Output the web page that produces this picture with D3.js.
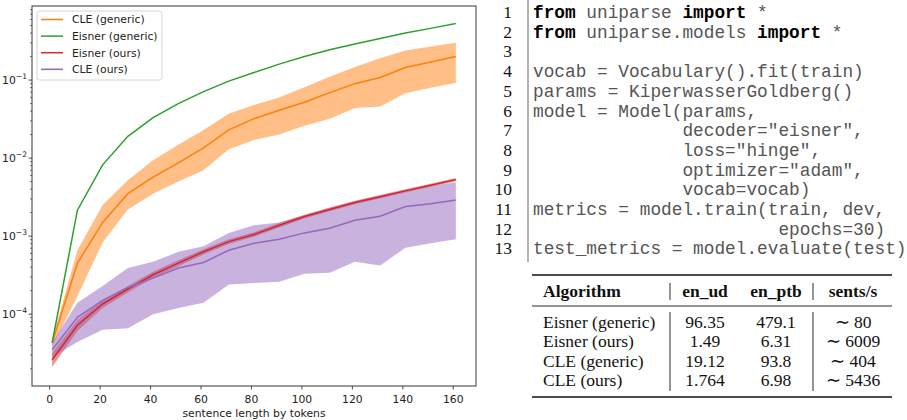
<!DOCTYPE html>
<html>
<head>
<meta charset="utf-8">
<script src="https://cdn.jsdelivr.net/npm/d3@7.9.0/dist/d3.min.js"></script>
<style>
  body { margin: 0; background: #fff; }
  svg { display: block; }
  .code text { white-space: pre; }
</style>
</head>
<body>
<svg id="fig" width="907" height="420"></svg>
<script>
// sentence length (tokens)
const lengths = [1, 11, 21, 31, 41, 51, 61, 71, 81, 91, 101, 111, 121, 131, 141, 151, 161];

const eisnerGeneric = [4.3e-5, 2.15e-3, 8.2e-3, 0.019, 0.033, 0.050, 0.071, 0.097, 0.125, 0.16, 0.20, 0.245, 0.29, 0.34, 0.40, 0.46, 0.53];

const cleGeneric   = [4.3e-5, 4.5e-4, 1.5e-3, 3.5e-3, 5.7e-3, 8.7e-3, 0.0135, 0.023, 0.032, 0.041, 0.052, 0.069, 0.09, 0.108, 0.145, 0.17, 0.2];
const cleGenericHi = [4.7e-5, 6.6e-4, 2.5e-3, 5.2e-3, 9.4e-3, 0.0148, 0.023, 0.037, 0.048, 0.06, 0.081, 0.11, 0.147, 0.19, 0.24, 0.27, 0.30];
const cleGenericLo = [3.8e-5, 1.7e-4, 8.3e-4, 2.2e-3, 3.5e-3, 5.0e-3, 7.0e-3, 0.013, 0.017, 0.02, 0.026, 0.032, 0.044, 0.046, 0.068, 0.08, 0.092];

const eisnerOurs   = [2.6e-5, 7.2e-5, 1.35e-4, 2.1e-4, 3.2e-4, 4.5e-4, 6.3e-4, 8.5e-4, 1.05e-3, 1.38e-3, 1.78e-3, 2.2e-3, 2.7e-3, 3.2e-3, 3.8e-3, 4.5e-3, 5.3e-3];
const eisnerOursHi = [3.2e-5, 8.4e-5, 1.5e-4, 2.3e-4, 3.5e-4, 4.9e-4, 6.8e-4, 9.1e-4, 1.12e-3, 1.47e-3, 1.88e-3, 2.32e-3, 2.84e-3, 3.36e-3, 3.98e-3, 4.7e-3, 5.55e-3];
const eisnerOursLo = [2.1e-5, 6.1e-5, 1.2e-4, 1.9e-4, 2.9e-4, 4.1e-4, 5.8e-4, 7.9e-4, 9.8e-4, 1.29e-3, 1.68e-3, 2.08e-3, 2.56e-3, 3.04e-3, 3.62e-3, 4.3e-3, 5.05e-3];

const cleOurs   = [3.5e-5, 9.1e-5, 1.5e-4, 2.2e-4, 2.9e-4, 3.9e-4, 4.6e-4, 6.6e-4, 8.1e-4, 9.1e-4, 1.1e-3, 1.26e-3, 1.6e-3, 1.8e-3, 2.4e-3, 2.6e-3, 2.9e-3];
const cleOursHi = [4.3e-5, 1.4e-4, 2.3e-4, 3.9e-4, 4.7e-4, 6.3e-4, 7.4e-4, 1.1e-3, 1.38e-3, 1.5e-3, 1.85e-3, 2.3e-3, 2.8e-3, 3.3e-3, 3.9e-3, 4.4e-3, 4.9e-3];
const cleOursLo = [2.8e-5, 4.4e-5, 6.3e-5, 6.6e-5, 1.0e-4, 1.2e-4, 1.4e-4, 2.4e-4, 2.5e-4, 2.6e-4, 3.3e-4, 3.4e-4, 4.7e-4, 4.2e-4, 7.1e-4, 8.1e-4, 9.1e-4];

const xTicks = [0, 20, 40, 60, 80, 100, 120, 140, 160];
const yTicks = [1e-4, 1e-3, 1e-2, 1e-1];
const yTickExp = ["\u22124", "\u22123", "\u22122", "\u22121"];

const codeLines = [
  [["from", true], [" uniparse ", false], ["import", true], [" *", false]],
  [["from", true], [" uniparse.models ", false], ["import", true], [" *", false]],
  [["", false]],
  [["vocab = Vocabulary().fit(train)", false]],
  [["params = KiperwasserGoldberg()", false]],
  [["model = Model(params,", false]],
  [["              decoder=\"eisner\",", false]],
  [["              loss=\"hinge\",", false]],
  [["              optimizer=\"adam\",", false]],
  [["              vocab=vocab)", false]],
  [["metrics = model.train(train, dev,", false]],
  [["                       epochs=30)", false]],
  [["test_metrics = model.evaluate(test)", false]]
];

const tableHeader = ["Algorithm", "en_ud", "en_ptb", "sents/s"];
const tableRows = [
  ["Eisner (generic)", "96.35", "479.1", "\u223c 80"],
  ["Eisner (ours)", "1.49", "6.31", "\u223c 6009"],
  ["CLE (generic)", "19.12", "93.8", "\u223c 404"],
  ["CLE (ours)", "1.764", "6.98", "\u223c 5436"]
];

const svg = d3.select("#fig");

// ---------- chart ----------
const L = 32, R = 476, T = 6, B = 386;
const x = d3.scaleLinear().domain([-7, 169]).range([L, R]);
const y = d3.scaleLog().domain([1.2e-5, 0.89]).range([B, T]);

const series = [
  { label: "CLE (generic)", color: "#ff7f0e", mean: cleGeneric, lo: cleGenericLo, hi: cleGenericHi },
  { label: "Eisner (generic)", color: "#2ca02c", mean: eisnerGeneric },
  { label: "Eisner (ours)", color: "#d62728", mean: eisnerOurs, lo: eisnerOursLo, hi: eisnerOursHi },
  { label: "CLE (ours)", color: "#9467bd", mean: cleOurs, lo: cleOursLo, hi: cleOursHi }
];

const chart = svg.append("g").attr("font-family", "DejaVu Sans").attr("font-size", 10.8);

const area = d3.area().x((d, i) => x(lengths[i])).y0(d => y(d[0])).y1(d => y(d[1]));
const line = d3.line().x((d, i) => x(lengths[i])).y(d => y(d));

for (const s of series) {
  if (!s.lo) continue;
  chart.append("path")
    .attr("d", area(s.lo.map((v, i) => [v, s.hi[i]])))
    .attr("fill", s.color)
    .attr("fill-opacity", 0.5);
}
for (const s of series) {
  chart.append("path")
    .attr("d", line(s.mean))
    .attr("fill", "none")
    .attr("stroke", s.color)
    .attr("stroke-width", 1.5);
}

// frame
chart.append("rect")
  .attr("x", L).attr("y", T).attr("width", R - L).attr("height", B - T)
  .attr("fill", "none").attr("stroke", "#222").attr("stroke-width", 0.9);

// x ticks
const xt = chart.append("g");
xTicks.forEach(t => {
  xt.append("line").attr("x1", x(t)).attr("x2", x(t)).attr("y1", B).attr("y2", B + 3.5)
    .attr("stroke", "#222").attr("stroke-width", 0.8);
  xt.append("text").attr("x", x(t)).attr("y", B + 17).attr("text-anchor", "middle")
    .attr("fill", "#222").text(t);
});
chart.append("text").attr("x", (L + R) / 2).attr("y", 417).attr("text-anchor", "middle")
  .attr("fill", "#222").text("sentence length by tokens");

// y ticks (log) with minors
const [d0, d1] = y.domain();
for (let e = Math.floor(Math.log10(d0)); e <= Math.ceil(Math.log10(d1)); e++) {
  for (let k = 2; k <= 9; k++) {
    const v = k * Math.pow(10, e);
    if (v < d0 || v > d1) continue;
    chart.append("line").attr("x1", L - 2).attr("x2", L).attr("y1", y(v)).attr("y2", y(v))
      .attr("stroke", "#222").attr("stroke-width", 0.6);
  }
}
yTicks.forEach((t, i) => {
  chart.append("line").attr("x1", L - 3.5).attr("x2", L).attr("y1", y(t)).attr("y2", y(t))
    .attr("stroke", "#222").attr("stroke-width", 0.8);
  const tx = chart.append("text").attr("x", L - 5).attr("y", y(t) + 4)
    .attr("text-anchor", "end").attr("fill", "#222");
  tx.append("tspan").text("10");
  tx.append("tspan").attr("font-size", 7.6).attr("dy", -4.8).text(yTickExp[i]);
});

// legend
const lg = chart.append("g");
lg.append("rect").attr("x", 37).attr("y", 11).attr("width", 125).attr("height", 69)
  .attr("rx", 2.5).attr("fill", "#fff").attr("fill-opacity", 0.8)
  .attr("stroke", "#ccc").attr("stroke-width", 0.8);
series.forEach((s, i) => {
  const yy = 19.5 + i * 16.6;
  lg.append("line").attr("x1", 41).attr("x2", 63).attr("y1", yy).attr("y2", yy)
    .attr("stroke", s.color).attr("stroke-width", 1.5);
  lg.append("text").attr("x", 72).attr("y", yy + 3.9).attr("fill", "#222").text(s.label);
});

// ---------- code listing ----------
const code = svg.append("g").attr("class", "code");
const codeX = 533, base0 = 18, pitch = 19.7;
code.append("line").attr("x1", 528).attr("x2", 528).attr("y1", 0).attr("y2", 262)
  .attr("stroke", "#999").attr("stroke-width", 1.5);
codeLines.forEach((parts, i) => {
  const by = base0 + i * pitch;
  code.append("text").attr("x", 512).attr("y", by).attr("text-anchor", "end")
    .attr("font-family", "Liberation Serif").attr("font-size", 17.5).attr("fill", "#111")
    .text(i + 1);
  const t = code.append("text").attr("x", codeX).attr("y", by)
    .attr("font-family", "Liberation Mono").attr("font-size", 17.8).attr("fill", "#555");
  parts.forEach(([s, bold]) => {
    t.append("tspan").attr("font-weight", bold ? "bold" : "normal")
      .attr("fill", bold ? "#000" : "#555").text(s);
  });
});

// ---------- table ----------
const tb = svg.append("g").attr("font-family", "Liberation Serif").attr("font-size", 17.5).attr("fill", "#111");
const colX = [543, 705, 776, 853];
const colAnchor = ["start", "middle", "middle", "middle"];
const rule = (yy, w) => tb.append("line").attr("x1", 532).attr("x2", 892).attr("y1", yy).attr("y2", yy)
  .attr("stroke", "#111").attr("stroke-width", w);
rule(275, 1.6);
rule(306, 0.9);
rule(397, 1.6);
[670, 813].forEach(sx => {
  tb.append("line").attr("x1", sx).attr("x2", sx).attr("y1", 283).attr("y2", 300).attr("stroke", "#111").attr("stroke-width", 0.9);
  tb.append("line").attr("x1", sx).attr("x2", sx).attr("y1", 312).attr("y2", 391).attr("stroke", "#111").attr("stroke-width", 0.9);
});
tableHeader.forEach((h, j) => {
  tb.append("text").attr("x", colX[j]).attr("y", 297).attr("text-anchor", colAnchor[j])
    .attr("font-weight", "bold").text(h);
});
tableRows.forEach((row, i) => {
  row.forEach((c, j) => {
    tb.append("text").attr("x", colX[j]).attr("y", 328 + i * 19.4).attr("text-anchor", colAnchor[j]).text(c);
  });
});
</script>
</body>
</html>
